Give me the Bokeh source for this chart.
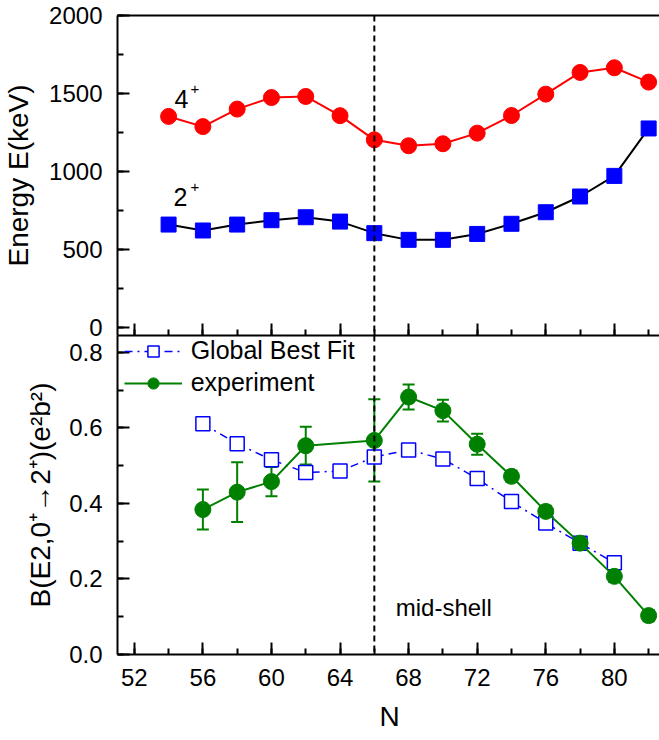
from bokeh.plotting import figure
from bokeh.layouts import column
from bokeh.models import (ColumnDataSource, Range1d, SingleIntervalTicker, FixedTicker, LinearAxis,
                          Span, Label, Whisker, TeeHead, Legend, LegendItem,
                          PrintfTickFormatter)
from bokeh.embed import file_html
from bokeh.resources import INLINE

FONT = "Liberation Sans"

# ---------------- data ----------------
N_levels = [54, 56, 58, 60, 62, 64, 66, 68, 70, 72, 74, 76, 78, 80, 82]
E_4plus = [1353, 1288, 1400, 1474, 1481, 1358, 1203, 1165, 1178, 1246, 1359, 1496, 1635, 1665, 1573]
E_2plus = [660, 622, 660, 688, 707, 679, 605, 562, 562, 600, 665, 739, 840, 972, 1276]

N_fit = [56, 58, 60, 62, 64, 66, 68, 70, 72, 74, 76, 78, 80]
B_fit = [0.611, 0.558, 0.516, 0.482, 0.486, 0.523, 0.542, 0.518, 0.466, 0.405, 0.348, 0.295, 0.243]

N_exp = [56, 58, 60, 62, 66, 68, 70, 72, 74, 76, 78, 80, 82]
B_exp = [0.384, 0.430, 0.458, 0.553, 0.567, 0.682, 0.646, 0.557, 0.472, 0.379, 0.295, 0.207, 0.103]
B_err = [0.053, 0.079, 0.039, 0.050, 0.109, 0.033, 0.029, 0.028, 0.015, 0.015, 0.015, 0.015, 0.015]

mid_shell_N = 66

RED = "#ff0000"
BLUE = "#0000ff"
GREEN = "#008000"


def style_axis(ax, major_in=12, minor_in=6):
    ax.axis_line_width = 2
    ax.axis_line_color = "black"
    ax.major_tick_in = major_in
    ax.major_tick_out = 0
    ax.minor_tick_in = minor_in
    ax.minor_tick_out = 0
    ax.major_tick_line_width = 2
    ax.minor_tick_line_width = 2
    ax.major_label_text_font = FONT
    ax.major_label_text_font_size = "24px"
    ax.major_label_text_color = "black"
    ax.axis_label_text_font = FONT
    ax.axis_label_text_font_size = "28px"
    ax.axis_label_text_font_style = "normal"
    ax.axis_label_text_color = "black"


X0, X1 = 51.02, 82.75
OVERLAP = 8

# ---------------- top panel ----------------
p1 = figure(frame_width=544, frame_height=320,
            x_range=Range1d(X0, X1), y_range=Range1d(-51, 2000),
            output_backend="svg", toolbar_location=None,
            min_border_left=115, min_border_right=0, min_border_top=15,
            min_border_bottom=OVERLAP)
p1.margin = (0, 0, -OVERLAP, 0)
p1.outline_line_color = None
p1.grid.visible = False
p1.xaxis.ticker = SingleIntervalTicker(interval=4, num_minor_ticks=2)
p1.yaxis.ticker = SingleIntervalTicker(interval=500, num_minor_ticks=2)
style_axis(p1.xaxis[0])
style_axis(p1.yaxis[0])
p1.xaxis.major_label_text_color = None
p1.xaxis.major_label_standoff = 0
p1.yaxis.major_label_standoff = 15
p1.yaxis.axis_label = "Energy E(keV)"
p1.yaxis.axis_label_standoff = 12

top_axis = LinearAxis(ticker=FixedTicker(ticks=[]), major_tick_in=0, major_tick_out=0,
                      minor_tick_in=0, minor_tick_out=0,
                      major_label_text_color=None, major_label_standoff=0,
                      axis_line_width=2, axis_line_color="black")
p1.add_layout(top_axis, "above")

src_lv = ColumnDataSource(dict(N=N_levels, E4=E_4plus, E2=E_2plus))
p1.line("N", "E4", source=src_lv, line_color=RED, line_width=2)
p1.scatter("N", "E4", source=src_lv, marker="circle", size=16, fill_color=RED, line_color=RED)
p1.line("N", "E2", source=src_lv, line_color="black", line_width=2)
p1.scatter("N", "E2", source=src_lv, marker="square", size=15, fill_color=BLUE, line_color=BLUE)

p1.add_layout(Label(x=54.35, y=1468, text="4", text_font=FONT, text_font_size="25px",
                    text_baseline="alphabetic", text_color="black"))
p1.add_layout(Label(x=54.35, y=1468, x_offset=16, y_offset=10, text="+", text_font=FONT,
                    text_font_size="15px", text_baseline="alphabetic", text_color="black"))
p1.add_layout(Label(x=54.29, y=835, text="2", text_font=FONT, text_font_size="25px",
                    text_baseline="alphabetic", text_color="black"))
p1.add_layout(Label(x=54.29, y=835, x_offset=17, y_offset=10, text="+", text_font=FONT,
                    text_font_size="15px", text_baseline="alphabetic", text_color="black"))

p1.add_layout(Span(location=mid_shell_N, dimension="height", line_color="black",
                   line_width=2, line_dash="6 4"))

# ---------------- bottom panel ----------------
p2 = figure(frame_width=544, frame_height=319,
            x_range=p1.x_range, y_range=Range1d(0, 0.845),
            output_backend="svg", toolbar_location=None,
            min_border_left=115, min_border_right=0, min_border_top=0, min_border_bottom=86)
p2.border_fill_color = None
p2.background_fill_color = None
p2.outline_line_color = None
p2.grid.visible = False
p2.xaxis.ticker = SingleIntervalTicker(interval=4, num_minor_ticks=2)
p2.yaxis.ticker = SingleIntervalTicker(interval=0.2, num_minor_ticks=2)
p2.yaxis.formatter = PrintfTickFormatter(format="%.1f")
style_axis(p2.xaxis[0])
style_axis(p2.yaxis[0])
p2.xaxis.major_label_standoff = 14
p2.xaxis.axis_label = "N"
p2.xaxis.axis_label_standoff = 12
p2.yaxis.major_label_standoff = 15
p2.yaxis.axis_label = "B(E2,0\u207a\u21922\u207a)(e\u00b2b\u00b2)"
p2.yaxis.axis_label_standoff = 10

src_fit = ColumnDataSource(dict(N=N_fit, B=B_fit))
src_exp = ColumnDataSource(dict(N=N_exp, B=B_exp,
                                lo=[b - e for b, e in zip(B_exp, B_err)],
                                hi=[b + e for b, e in zip(B_exp, B_err)]))

r_fit_line = p2.line("N", "B", source=src_fit, line_color=BLUE, line_width=1.5, line_dash="8 5 2 5")
r_fit_pts = p2.scatter("N", "B", source=src_fit, marker="square", size=14,
                       fill_color="white", line_color=BLUE, line_width=1.5)

wh = Whisker(base="N", upper="hi", lower="lo", source=src_exp, dimension="height",
             line_color=GREEN, line_width=2, level="underlay",
             upper_head=TeeHead(size=12, line_color=GREEN, line_width=2),
             lower_head=TeeHead(size=12, line_color=GREEN, line_width=2))
p2.add_layout(wh)
r_exp_line = p2.line("N", "B", source=src_exp, line_color=GREEN, line_width=2)
r_exp_pts = p2.scatter("N", "B", source=src_exp, marker="circle", size=16,
                       fill_color=GREEN, line_color=GREEN)

legend = Legend(items=[LegendItem(label="Global Best Fit", renderers=[r_fit_line, r_fit_pts]),
                       LegendItem(label="experiment", renderers=[r_exp_line, r_exp_pts])],
                location=(22, 257), border_line_color=None, background_fill_alpha=0,
                label_text_font=FONT, label_text_font_size="25px", label_text_color="black",
                glyph_width=58, glyph_height=28, label_height=28, label_standoff=9,
                spacing=3, padding=0, margin=0)
p2.add_layout(legend)

p2.add_layout(Span(location=mid_shell_N, dimension="height", line_color="black",
                   line_width=2, line_dash="6 4"))
p2.add_layout(Label(x=67.25, y=0.1245, text="mid-shell", text_font=FONT, text_font_size="24px",
                    text_baseline="alphabetic", text_color="black"))

layout = column(p1, p2, spacing=0)

open("out.html", "w").write(file_html(layout, INLINE))
